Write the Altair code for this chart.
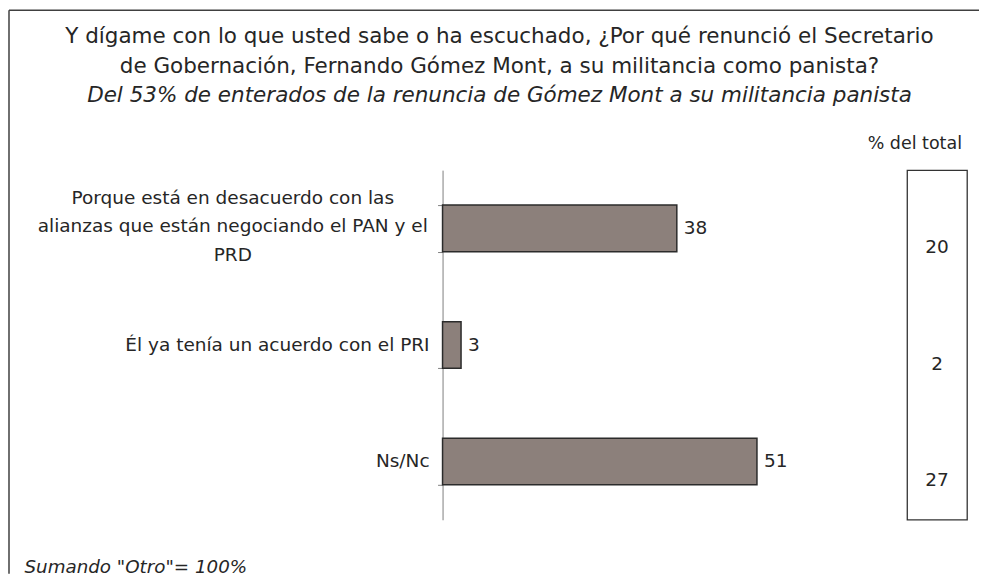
import altair as alt
import pandas as pd

# ---- data ----
categories = [
    "Porque está en desacuerdo con las|alianzas que están negociando el PAN y el|PRD",
    "Él ya tenía un acuerdo con el PRI",
    "Ns/Nc",
]
values = [38, 3, 51]
total_pct = [20, 2, 27]

title_line1 = "Y dígame con lo que usted sabe o ha escuchado, ¿Por qué renunció el Secretario"
title_line2 = "de Gobernación, Fernando Gómez Mont, a su militancia como panista?"
subtitle = "Del 53% de enterados de la renuncia de Gómez Mont a su militancia panista"
box_title = "% del total"
footnote = 'Sumando "Otro"= 100%'

df = pd.DataFrame({"cat": categories, "value": values, "total": total_pct})
one = pd.DataFrame({"k": [0]})

FONT = "DejaVu Sans"
TXT = "#262626"
W, H = 440, 350
LBL = 18.5
LH = 28.5

yscale = alt.Scale(domain=categories, paddingInner=0.6, paddingOuter=0.3)
xscale = alt.Scale(domain=[0, 71.3], nice=False, zero=True)
ycat = alt.Y("cat:N", scale=yscale, sort=categories)

base = alt.Chart(df)

bars = base.mark_bar(fill="#8c807b", stroke="#2b2b2b", strokeWidth=1.5).encode(
    x=alt.X(
        "value:Q",
        scale=xscale,
        axis=alt.Axis(
            domain=False, ticks=False, labels=False, grid=False,
            title=footnote, titleX=-419, titleY=53, titleAlign="left",
            titleBaseline="alphabetic", titleFontStyle="italic", titleFont=FONT,
            titleFontSize=18.3, titleFontWeight="normal", titleColor=TXT,
        ),
    ),
    y=alt.Y(
        "cat:N",
        scale=yscale,
        sort=categories,
        axis=alt.Axis(
            title=None, labels=False,
            tickBand="extent", tickSize=5, tickColor="#808080",
            domainColor="#808080", grid=False,
        ),
    ),
)

value_labels = base.mark_text(
    align="left", baseline="middle", dx=7, font=FONT, fontSize=LBL, color=TXT
).encode(
    x=alt.X("value:Q", scale=xscale),
    y=ycat,
    text="value:Q",
)

# category labels (wrapped one centred in its block, short ones right-aligned)
cat_wrapped = base.transform_filter("indexof(datum.cat, '|') >= 0").mark_text(
    align="center", baseline="middle", lineBreak="|", lineHeight=LH, dy=-LH - 2,
    font=FONT, fontSize=LBL, color=TXT,
).encode(x=alt.value(-210), y=ycat, text="cat:N")

cat_short = base.transform_filter("indexof(datum.cat, '|') < 0").mark_text(
    align="right", baseline="middle", font=FONT, fontSize=LBL, color=TXT,
).encode(x=alt.value(-13), y=ycat, text="cat:N")

frame_left = alt.Chart(one).mark_rule(color="#404040", strokeWidth=1.5).encode(
    x=alt.value(-434), y=alt.value(-160), y2=alt.value(404)
)
frame_top = alt.Chart(one).mark_rule(color="#404040", strokeWidth=1.5).encode(
    x=alt.value(-434), x2=alt.value(537), y=alt.value(-160)
)

def title_text(txt, y, italic=False):
    return alt.Chart(one).mark_text(
        text=txt, align="center", baseline="alphabetic", font=FONT,
        fontSize=21.5, color=TXT, fontStyle="italic" if italic else "normal",
    ).encode(x=alt.value(57), y=alt.value(y))

main = alt.layer(
    frame_left, frame_top,
    title_text(title_line1, -127),
    title_text(title_line2, -97.5),
    title_text(subtitle, -68, italic=True),
    bars, value_labels, cat_wrapped, cat_short,
).properties(width=W, height=H)

box = alt.Chart(df).mark_text(
    font=FONT, fontSize=LBL, color=TXT, baseline="middle", align="center", dy=19
).encode(
    x=alt.value(30),
    y=alt.Y("cat:N", scale=yscale, sort=categories, axis=None),
    text="total:Q",
).properties(
    width=60, height=H,
    view=alt.ViewBackground(stroke="#333333", strokeWidth=1.3),
    title=alt.TitleParams(box_title, anchor="end", font=FONT, fontSize=17.5,
                          fontWeight="normal", color=TXT, offset=18, dx=-5),
)

chart = alt.hconcat(main, box, spacing=25, bounds="flush").configure_view(
    stroke=None
).properties(padding={"left": 0, "top": 1, "right": 0, "bottom": 0})

chart.save("out.html", embed_options={"renderer": "svg", "actions": False})
